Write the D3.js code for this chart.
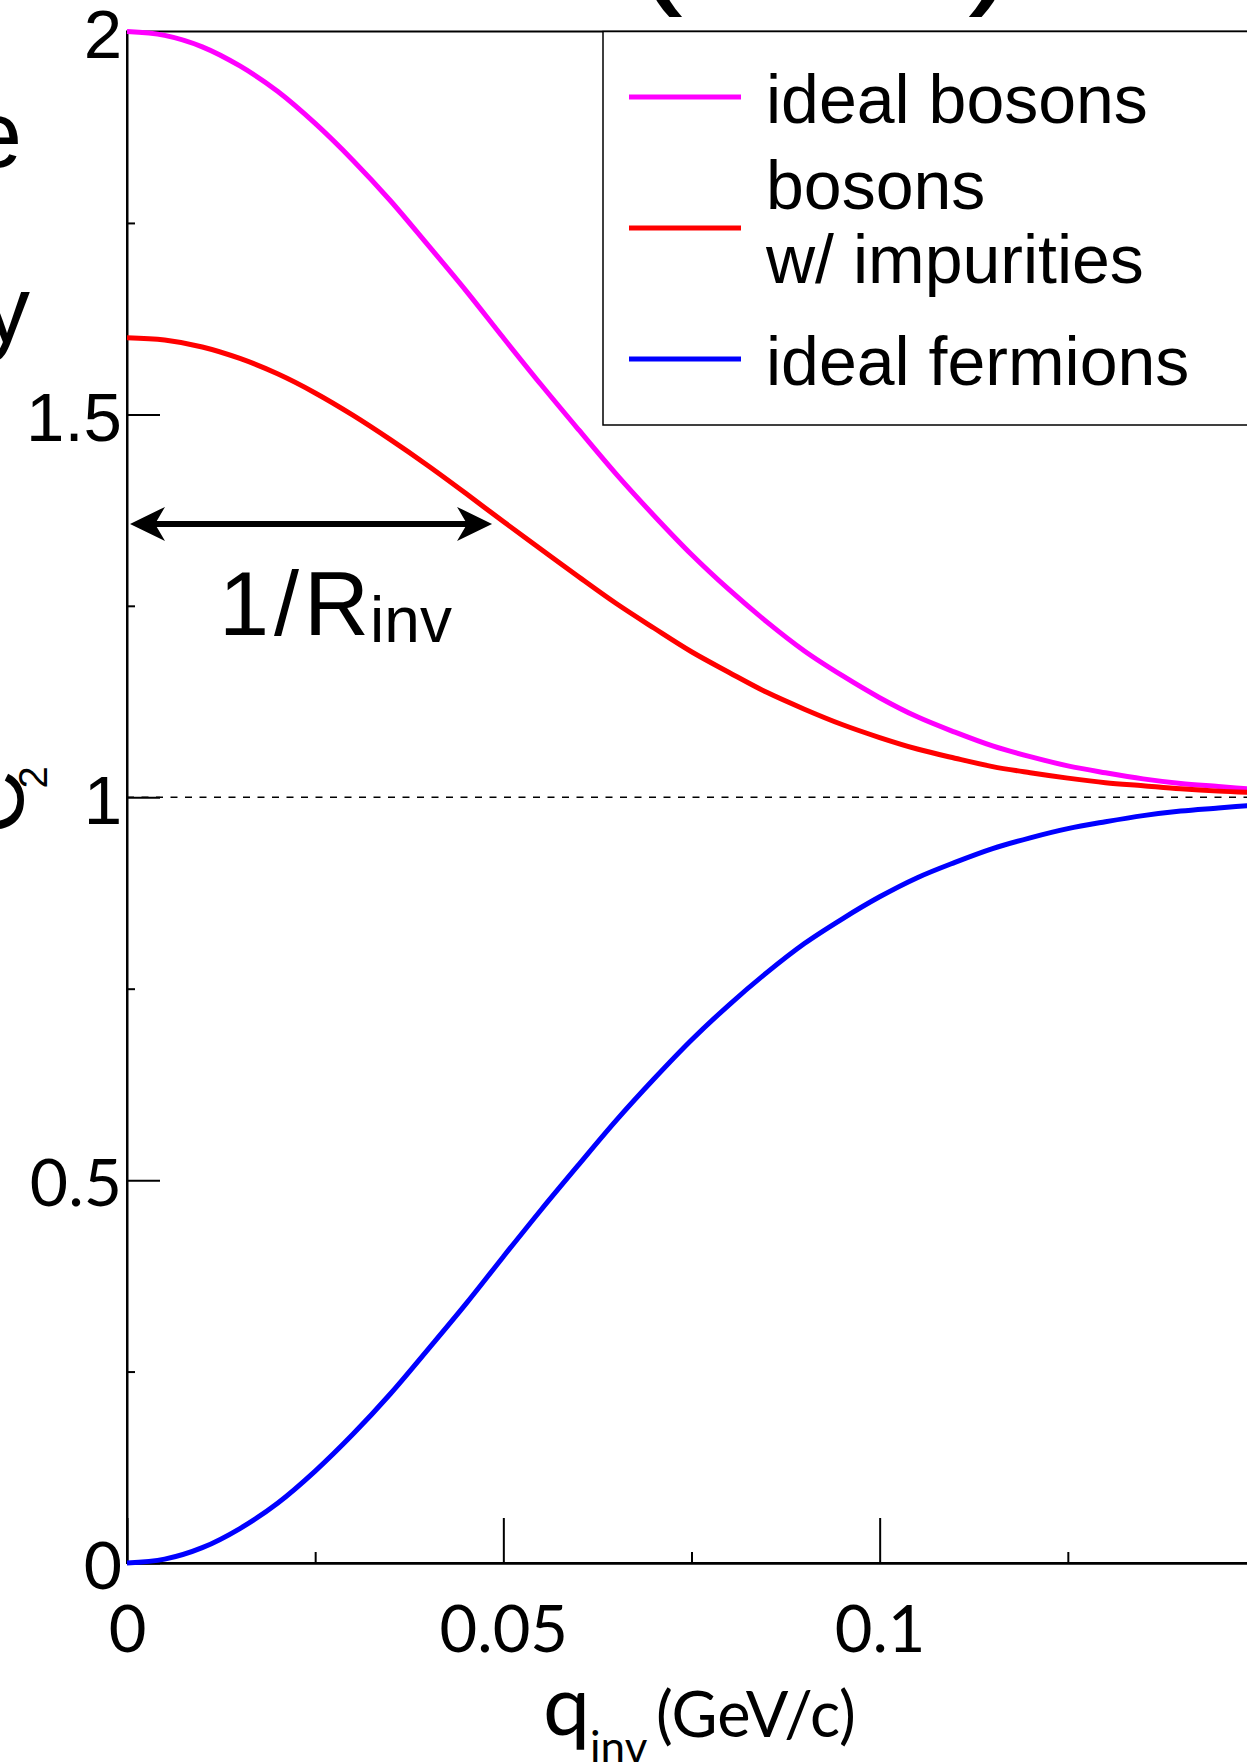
<!DOCTYPE html>
<html>
<head>
<meta charset="utf-8">
<script src="https://cdn.jsdelivr.net/npm/d3@7"></script>
<style>
  body { margin: 0; background: #fff; }
  svg { display: block; }
</style>
</head>
<body>
<script>
// q_inv sample points (GeV/c)
const qinv = [0, 0.005, 0.01, 0.015, 0.02, 0.025, 0.03, 0.035, 0.04, 0.045, 0.05,
  0.055, 0.06, 0.065, 0.07, 0.075, 0.08, 0.085, 0.09, 0.095, 0.1,
  0.105, 0.11, 0.115, 0.12, 0.125, 0.13, 0.135, 0.14, 0.145, 0.15];

// C2
const idealBosons = [2.000, 1.995, 1.980, 1.955, 1.922, 1.880, 1.832, 1.779, 1.721, 1.662, 1.600,
  1.539, 1.480, 1.422, 1.368, 1.317, 1.271, 1.229, 1.191, 1.159, 1.130,
  1.105, 1.085, 1.067, 1.053, 1.041, 1.032, 1.024, 1.018, 1.014, 1.010];
const bosonsImpurities = [1.600, 1.597, 1.588, 1.573, 1.553, 1.528, 1.499, 1.467, 1.433, 1.397, 1.360,
  1.324, 1.288, 1.253, 1.221, 1.190, 1.163, 1.137, 1.115, 1.095, 1.078,
  1.063, 1.051, 1.040, 1.032, 1.025, 1.019, 1.015, 1.011, 1.008, 1.006];
const idealFermions = [0.000, 0.005, 0.020, 0.045, 0.078, 0.120, 0.168, 0.221, 0.279, 0.338, 0.400,
  0.461, 0.520, 0.578, 0.632, 0.683, 0.729, 0.771, 0.809, 0.841, 0.870,
  0.895, 0.915, 0.933, 0.947, 0.959, 0.968, 0.976, 0.982, 0.986, 0.990];

const xTicks = [0, 0.05, 0.1];
const xTickLabels = ['0', '0.05', '0.1'];
const xMinorTicks = [0.025, 0.075, 0.125];
const yTicks = [0, 0.5, 1, 1.5, 2];
const yTickLabels = ['0', '0.5', '1', '1.5', '2'];
const yMinorTicks = [0.25, 0.75, 1.25, 1.75];

const legendLabels = [['ideal bosons'], ['bosons', 'w/ impurities'], ['ideal fermions']];

// 1/R_inv arrow: from q, to q, at C2
const arrowQ = [0.0004, 0.0485];
const arrowLevel = 1.357;

const seriesColors = ['#ff00ff', '#ff0000', '#0000ff'];
const helv = '"Liberation Sans", Arial, Helvetica, sans-serif';
const gill = 'Lato, "Open Sans", sans-serif';

const width = 1247;
const height = 1762;
const marginLeft = 127;
const marginTop = 31.5;
const plotRight = 1256;
const plotBottom = 1563;

const svg = d3.select('body')
  .append('svg')
  .attr('width', width)
  .attr('height', height)
  .attr('viewBox', [0, 0, width, height]);

svg.append('rect').attr('width', width).attr('height', height).attr('fill', '#fff');

const x = d3.scaleLinear().domain([0, 0.15]).range([marginLeft, plotRight]);
const y = d3.scaleLinear().domain([0, 2]).range([plotBottom, marginTop]);

// frame (top & right edges)
svg.append('rect')
  .attr('x', x(0)).attr('y', y(2))
  .attr('width', x(0.15) - x(0)).attr('height', y(0) - y(2))
  .attr('fill', 'none').attr('stroke', '#000').attr('stroke-width', 2);

// dashed line at C2 = 1
svg.append('line')
  .attr('x1', x(0)).attr('x2', x(0.15))
  .attr('y1', y(1)).attr('y2', y(1))
  .attr('stroke', '#000').attr('stroke-width', 1.6)
  .attr('stroke-dasharray', '7 7.5');

// minor ticks
svg.append('g')
  .attr('transform', `translate(0,${plotBottom})`)
  .call(d3.axisBottom(x).tickValues(xMinorTicks).tickSizeInner(-11).tickSizeOuter(0).tickFormat(''))
  .call((g) => g.select('.domain').remove())
  .call((g) => g.selectAll('line').attr('stroke-width', 2));
svg.append('g')
  .attr('transform', `translate(${marginLeft},0)`)
  .call(d3.axisLeft(y).tickValues(yMinorTicks).tickSizeInner(-8).tickSizeOuter(0).tickFormat(''))
  .call((g) => g.select('.domain').remove())
  .call((g) => g.selectAll('line').attr('stroke-width', 2));

// x-axis
svg.append('g')
  .attr('transform', `translate(0,${plotBottom})`)
  .call(
    d3.axisBottom(x)
      .tickValues(xTicks)
      .tickSizeInner(-45)
      .tickSizeOuter(0)
      .tickPadding(43)
      .tickFormat((d, i) => xTickLabels[i])
  )
  .call((g) => g.select('.domain').attr('stroke-width', 2.5))
  .call((g) => g.selectAll('line').attr('stroke-width', 2))
  .call((g) => g.selectAll('text')
    .attr('fill', '#000')
    .style('font-family', gill)
    .style('font-size', '65px'));

// y-axis
svg.append('g')
  .attr('transform', `translate(${marginLeft},0)`)
  .call(
    d3.axisLeft(y)
      .tickValues(yTicks)
      .tickSizeInner(-33)
      .tickSizeOuter(0)
      .tickPadding(5)
      .tickFormat((d, i) => yTickLabels[i])
  )
  .call((g) => g.select('.domain').attr('stroke-width', 2))
  .call((g) => g.selectAll('line').attr('stroke-width', 2))
  .call((g) => g.selectAll('text')
    .attr('fill', '#000')
    .attr('dy', '0.38em')
    .style('font-family', (d) => (d === 0 || d === 0.5 ? gill : helv))
    .style('font-size', (d) => (d === 0 || d === 0.5 ? '66px' : '69px')));

// curves
const line = d3.line()
  .x((d) => x(d[0]))
  .y((d) => y(d[1]))
  .curve(d3.curveMonotoneX);

[idealBosons, bosonsImpurities, idealFermions].forEach((vals, i) => {
  svg.append('path')
    .datum(qinv.map((q, j) => [q, vals[j]]))
    .attr('fill', 'none')
    .attr('stroke', seriesColors[i])
    .attr('stroke-width', 5)
    .attr('d', line);
});

// legend
const legend = svg.append('g');
legend.append('rect')
  .attr('x', 603).attr('y', marginTop)
  .attr('width', 700).attr('height', 425 - marginTop)
  .attr('fill', '#fff').attr('stroke', '#000').attr('stroke-width', 1.5);

const legendRowY = [97, 228, 359];
const legendBase = [[122.7], [209, 283], [385]];
legendLabels.forEach((lines, i) => {
  legend.append('line')
    .attr('x1', 629).attr('x2', 741)
    .attr('y1', legendRowY[i]).attr('y2', legendRowY[i])
    .attr('stroke', seriesColors[i]).attr('stroke-width', 5);
  lines.forEach((t, k) => {
    legend.append('text')
      .attr('x', 766)
      .attr('y', legendBase[i][k])
      .style('font-family', helv)
      .style('font-size', '68px')
      .text(t);
  });
});

// 1/R_inv arrow
const ax0 = x(arrowQ[0]);
const ax1 = x(arrowQ[1]);
const ay = y(arrowLevel);
const headL = 35;
const headW = 17;
const notch = 10;
svg.append('line')
  .attr('x1', ax0 + 20).attr('x2', ax1 - 20)
  .attr('y1', ay).attr('y2', ay)
  .attr('stroke', '#000').attr('stroke-width', 6);
svg.append('path')
  .attr('fill', '#000')
  .attr('d', `M${ax0},${ay} L${ax0 + headL},${ay - headW} L${ax0 + headL - notch},${ay} L${ax0 + headL},${ay + headW} Z`);
svg.append('path')
  .attr('fill', '#000')
  .attr('d', `M${ax1},${ay} L${ax1 - headL},${ay - headW} L${ax1 - headL + notch},${ay} L${ax1 - headL},${ay + headW} Z`);

const ann = svg.append('text')
  .attr('x', 219).attr('y', 635)
  .style('font-family', helv)
  .style('font-size', '90px')
  .style('letter-spacing', '5px');
ann.append('tspan').text('1/R');
ann.append('tspan').attr('dx', -4).attr('dy', 7).style('font-size', '64px').style('letter-spacing', '0px').text('inv');

// x-axis title
const xt = svg.append('text')
  .attr('x', 543).attr('y', 1735)
  .style('font-family', gill);
xt.append('tspan').style('font-size', '84px').text('q');
xt.append('tspan').attr('dy', 28).style('font-size', '44px').text('inv');
xt.append('tspan').attr('x', 656).attr('y', 1737).style('font-size', '63px').text('(GeV/c)');

// y-axis title (cut off at the left edge)
const yt = svg.append('text')
  .attr('transform', 'translate(23,834) rotate(-90)')
  .style('font-family', helv)
  .style('font-size', '88px');
yt.append('tspan').text('C');
yt.append('tspan').attr('dx', -18).attr('dy', 24).style('font-size', '40px').text('2');

// fragments of outer labels cut off by the frame of the picture
svg.append('text')
  .attr('x', 22).attr('y', 167)
  .attr('text-anchor', 'end')
  .style('font-family', helv).style('font-size', '94px')
  .text('e');
svg.append('text')
  .attr('x', 30).attr('y', 342)
  .attr('text-anchor', 'end')
  .style('font-family', helv).style('font-size', '94px')
  .text('y');
svg.append('text')
  .attr('x', 633).attr('y', -14)
  .style('font-family', helv).style('font-size', '150px')
  .text('(');
svg.append('text')
  .attr('x', 968).attr('y', -14)
  .style('font-family', helv).style('font-size', '150px')
  .text(')');
</script>
</body>
</html>
